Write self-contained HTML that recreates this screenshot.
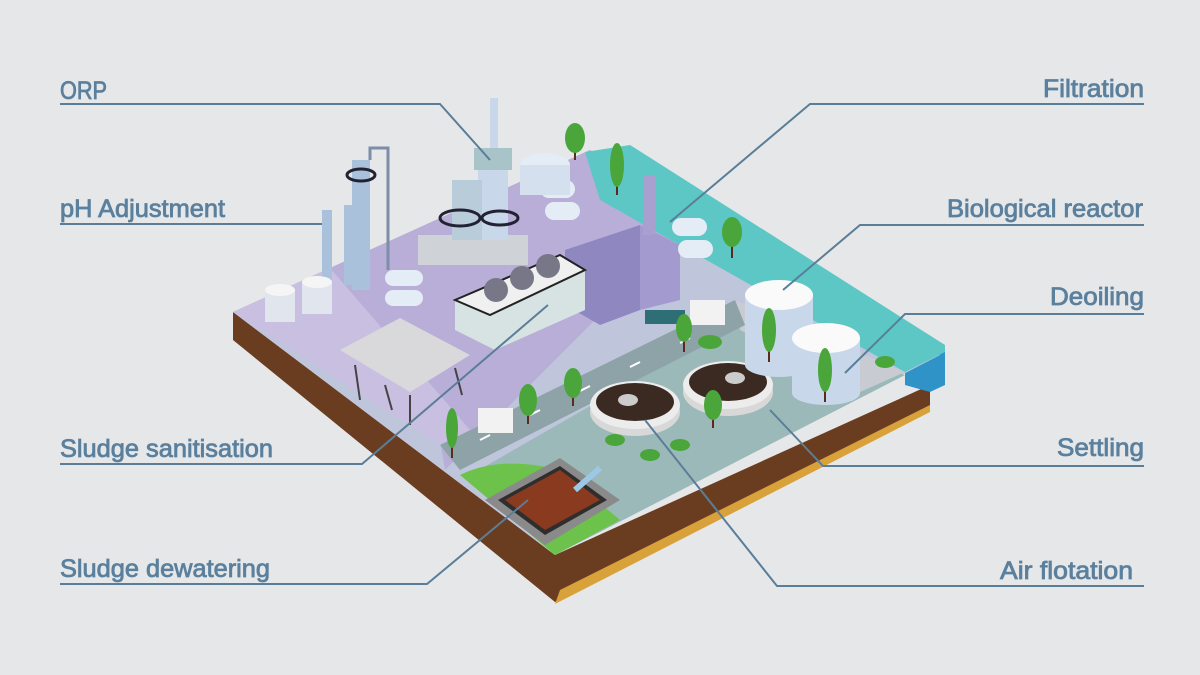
<!DOCTYPE html>
<html><head><meta charset="utf-8"><style>
html,body{margin:0;padding:0;background:#e6e7e8;}
svg{display:block}
text{font-family:"Liberation Sans",sans-serif;font-size:25px;fill:#5a809e;stroke:#5a809e;stroke-width:0.8px}
</style></head><body>
<svg width="1200" height="675" viewBox="0 0 1200 675" xmlns="http://www.w3.org/2000/svg">
<rect width="1200" height="675" fill="#e6e7e8"/>
<polygon points="233,312 555,555 555,602 233,340" fill="#6b3d20"/>
<polygon points="555,555 930,385 930,410 555,602" fill="#6b3d20"/>
<polygon points="560,590 930,405 930,412 555,604" fill="#d9a13a"/>
<polygon points="905,370 945,350 945,385 930,392 905,385" fill="#2f93c8"/>
<polygon points="233,312 590,150 940,355 555,555" fill="#bfc6dc"/>
<polygon points="233,312 590,150 700,215 445,470 440,440" fill="#b8aed8"/>
<polygon points="233,312 330,268 470,430 440,445" fill="#c9bfe0"/>
<polygon points="585,152 630,145 945,345 945,352 905,372 600,200" fill="#5cc7c5"/>
<polygon points="470,475 740,320 905,375 555,555" fill="#9cb9b9"/>
<polygon points="735,300 905,372 860,392 740,330" fill="#c8ccd2"/>
<polygon points="440,445 735,300 745,325 460,470" fill="#8da3a8"/>
<g stroke="#fff" stroke-width="2"><line x1="480" y1="440" x2="490" y2="435"/><line x1="530" y1="415" x2="540" y2="410"/><line x1="580" y1="391" x2="590" y2="386"/><line x1="630" y1="367" x2="640" y2="362"/><line x1="680" y1="343" x2="690" y2="338"/></g>
<path d="M460,475 Q500,455 560,470 L620,520 L555,555 Z" fill="#6cc24a"/>
<polygon points="485,500 560,458 620,500 545,545" fill="#8a8a8a"/>
<polygon points="498,500 560,466 607,500 545,535" fill="#2e2e2e"/>
<polygon points="505,500 560,470 600,500 545,530" fill="#8a3a1e"/>
<line x1="575" y1="490" x2="600" y2="468" stroke="#9cc8e6" stroke-width="6"/>
<ellipse cx="635" cy="412" rx="45" ry="24" fill="#d8d8d8"/><ellipse cx="635" cy="405" rx="45" ry="24" fill="#ececec"/><ellipse cx="635" cy="402" rx="39" ry="19" fill="#3b2a22"/>
<ellipse cx="728" cy="392" rx="45" ry="24" fill="#d8d8d8"/><ellipse cx="728" cy="385" rx="45" ry="24" fill="#ececec"/><ellipse cx="728" cy="382" rx="39" ry="19" fill="#3b2a22"/>
<ellipse cx="628" cy="400" rx="10" ry="6" fill="#ccc"/><ellipse cx="735" cy="378" rx="10" ry="6" fill="#ccc"/>
<rect x="745" y="295" width="68" height="70" fill="#c9d7ea"/><ellipse cx="779" cy="365" rx="34" ry="12" fill="#c9d7ea"/><ellipse cx="779" cy="295" rx="34" ry="15" fill="#fafafa"/>
<rect x="792" y="338" width="68" height="55" fill="#c9d7ea"/><ellipse cx="826" cy="393" rx="34" ry="12" fill="#c9d7ea"/><ellipse cx="826" cy="338" rx="34" ry="15" fill="#fafafa"/>
<polygon points="565,250 640,225 640,310 600,325 565,305" fill="#8f87bf"/>
<polygon points="640,225 680,245 680,300 640,310" fill="#a39bd0"/>
<rect x="643" y="175" width="12" height="60" fill="#a9a0d0"/>
<rect x="645" y="310" width="40" height="14" fill="#2d6e77"/>
<rect x="672" y="218" width="35" height="18" rx="9" fill="#e4ecf6"/><rect x="678" y="240" width="35" height="18" rx="9" fill="#e4ecf6"/>
<rect x="540" y="180" width="35" height="18" rx="9" fill="#e4ecf6"/><rect x="545" y="202" width="35" height="18" rx="9" fill="#e4ecf6"/>
<ellipse cx="545" cy="165" rx="25" ry="12" fill="#e4ecf6"/><rect x="520" y="165" width="50" height="30" fill="#d4e0ee"/>
<rect x="418" y="235" width="110" height="30" fill="#cfd3d8"/>
<rect x="490" y="98" width="8" height="60" fill="#c8d8ea"/>
<rect x="478" y="150" width="30" height="90" fill="#c8d8ea"/>
<rect x="452" y="180" width="30" height="60" fill="#b8ccda"/>
<rect x="474" y="148" width="38" height="22" fill="#a8c4c8"/>
<ellipse cx="460" cy="218" rx="20" ry="8" fill="none" stroke="#223" stroke-width="3"/><ellipse cx="500" cy="218" rx="18" ry="7" fill="none" stroke="#223" stroke-width="3"/>
<rect x="352" y="160" width="18" height="130" fill="#a9c1db"/><rect x="322" y="210" width="10" height="80" fill="#a9c1db"/><rect x="344" y="205" width="10" height="80" fill="#a9c1db"/>
<ellipse cx="361" cy="175" rx="14" ry="6" fill="none" stroke="#223" stroke-width="3"/>
<path d="M370,160 L370,148 L388,148 L388,270" stroke="#7d8ea8" stroke-width="3" fill="none"/>
<rect x="265" y="290" width="30" height="32" fill="#e1e6ee"/><ellipse cx="280" cy="290" rx="15" ry="6" fill="#f5f5f5"/>
<rect x="302" y="282" width="30" height="32" fill="#e1e6ee"/><ellipse cx="317" cy="282" rx="15" ry="6" fill="#f5f5f5"/>
<rect x="385" y="270" width="38" height="16" rx="8" fill="#e4ecf6"/><rect x="385" y="290" width="38" height="16" rx="8" fill="#e4ecf6"/>
<polygon points="455,300 560,255 585,270 585,310 495,350 455,330" fill="#d7e2e2"/>
<polygon points="455,300 560,255 585,270 490,315" fill="#f0f0f0" stroke="#222" stroke-width="2"/>
<circle cx="496" cy="290" r="12" fill="#778"/><circle cx="522" cy="278" r="12" fill="#778"/><circle cx="548" cy="266" r="12" fill="#778"/>
<polygon points="340,350 400,318 470,355 410,392" fill="#d9d9dc"/>
<g stroke="#444" stroke-width="2"><line x1="355" y1="365" x2="360" y2="400"/><line x1="385" y1="385" x2="392" y2="410"/><line x1="410" y1="395" x2="410" y2="425"/><line x1="455" y1="368" x2="462" y2="395"/></g>
<rect x="478" y="408" width="35" height="25" fill="#f2f2f2"/><rect x="690" y="300" width="35" height="25" fill="#f2f2f2"/>
<g stroke="#5a2a1a" stroke-width="2">
<line x1="575" y1="150" x2="575" y2="160"/><line x1="617" y1="185" x2="617" y2="195"/><line x1="732" y1="245" x2="732" y2="258"/><line x1="684" y1="340" x2="684" y2="352"/><line x1="769" y1="350" x2="769" y2="362"/><line x1="825" y1="390" x2="825" y2="402"/><line x1="573" y1="396" x2="573" y2="406"/><line x1="528" y1="414" x2="528" y2="424"/><line x1="452" y1="446" x2="452" y2="458"/><line x1="713" y1="418" x2="713" y2="428"/>
</g>
<g fill="#4aa63a">
<ellipse cx="575" cy="138" rx="10" ry="15"/><ellipse cx="617" cy="165" rx="7" ry="22"/><ellipse cx="732" cy="232" rx="10" ry="15"/>
<ellipse cx="684" cy="328" rx="8" ry="14"/><ellipse cx="769" cy="330" rx="7" ry="22"/><ellipse cx="825" cy="370" rx="7" ry="22"/>
<ellipse cx="573" cy="383" rx="9" ry="15"/><ellipse cx="528" cy="400" rx="9" ry="16"/><ellipse cx="452" cy="428" rx="6" ry="20"/>
<ellipse cx="713" cy="405" rx="9" ry="15"/><ellipse cx="710" cy="342" rx="12" ry="7"/><ellipse cx="885" cy="362" rx="10" ry="6"/>
<ellipse cx="615" cy="440" rx="10" ry="6"/><ellipse cx="650" cy="455" rx="10" ry="6"/><ellipse cx="680" cy="445" rx="10" ry="6"/>
</g>
<g stroke="#5a7e98" stroke-width="2" fill="none">
<polyline points="60,104 440,104 490,160"/>
<polyline points="60,224 322,224"/>
<polyline points="60,464 362,464 548,305"/>
<polyline points="60,584 427,584 528,500"/>
<polyline points="1144,104 810,104 670,222"/>
<polyline points="1144,225 860,225 783,290"/>
<polyline points="1144,314 905,314 845,373"/>
<polyline points="1144,466 823,466 770,410"/>
<polyline points="1144,586 777,586 645,420"/>
</g>
<text x="60" y="99" textLength="47" lengthAdjust="spacingAndGlyphs">ORP</text>
<text x="60" y="217" textLength="165" lengthAdjust="spacingAndGlyphs">pH Adjustment</text>
<text x="60" y="457" textLength="213" lengthAdjust="spacingAndGlyphs">Sludge sanitisation</text>
<text x="60" y="577" textLength="210" lengthAdjust="spacingAndGlyphs">Sludge dewatering</text>
<text x="1043" y="97" textLength="101" lengthAdjust="spacingAndGlyphs">Filtration</text>
<text x="947" y="217" textLength="196" lengthAdjust="spacingAndGlyphs">Biological reactor</text>
<text x="1050" y="305" textLength="94" lengthAdjust="spacingAndGlyphs">Deoiling</text>
<text x="1057" y="456" textLength="87" lengthAdjust="spacingAndGlyphs">Settling</text>
<text x="1000" y="579" textLength="133" lengthAdjust="spacingAndGlyphs">Air flotation</text>
</svg>
</body></html>
